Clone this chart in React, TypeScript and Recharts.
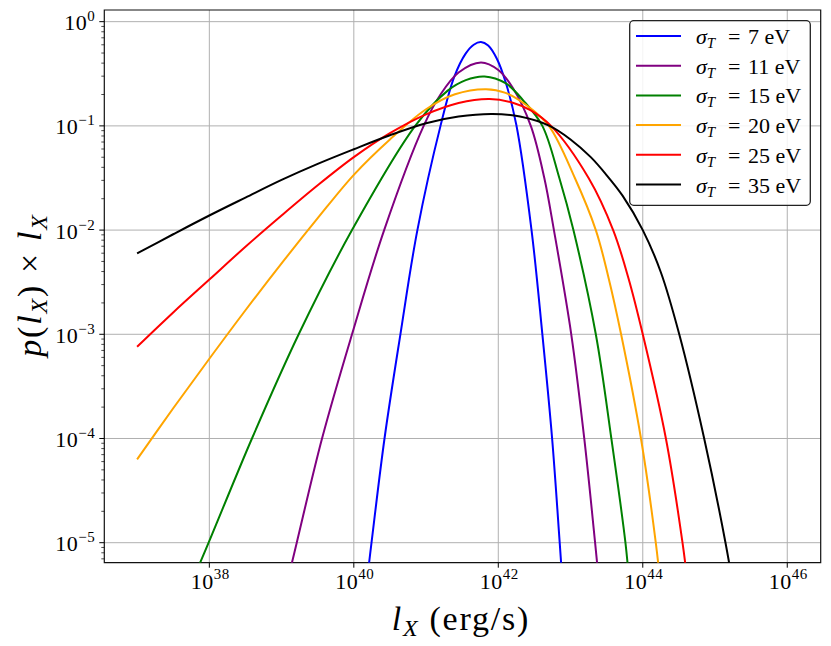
import React from 'react';
import { LineChart, Line, XAxis, YAxis, CartesianGrid, ReferenceArea, Legend, Label } from 'recharts';

const FONT = '"Liberation Serif", "Times New Roman", serif';

// sigma_T values (eV) and line colours
const sigmaT = [7, 11, 15, 20, 25, 35];
const colors = ['#0000ff', '#800080', '#008000', '#ffa500', '#ff0000', '#000000'];

// log10(l_X [erg/s]) of each sampled point and p(l_X) x l_X read at that point
const blueLogL = [40.178, 40.245, 40.425, 40.645, 40.88, 41.2, 41.39, 41.55, 41.66, 41.76, 41.86, 41.98, 42.1, 42.25, 42.46, 42.61, 42.745, 42.85, 42.91];
const blueP = [4.07e-6, 1e-5, 1e-4, 1e-3, 1e-2, 0.1, 0.295, 0.496, 0.601, 0.637, 0.59, 0.441, 0.265, 0.102, 1e-2, 1e-3, 1e-4, 1e-5, 2.51e-6];

const purpleLogL = [39.075, 39.21, 39.56, 39.975, 40.42, 40.967, 41.2, 41.45, 41.76, 42.0, 42.2, 42.45, 42.637, 42.77, 43.01, 43.19, 43.34, 43.41];
const purpleP = [4.07e-6, 1e-5, 1e-4, 1e-3, 1e-2, 0.1, 0.2, 0.325, 0.406, 0.344, 0.232, 0.1, 0.0316, 1e-2, 1e-3, 1e-4, 1e-5, 3.16e-6];

const greenLogL = [37.8, 37.99, 38.59, 39.237, 39.975, 40.85, 41.3, 41.55, 41.81, 42.1, 42.35, 42.61, 42.845, 43.04, 43.35, 43.565, 43.76, 43.815];
const greenP = [4.9e-6, 1e-5, 1e-4, 1e-3, 1e-2, 0.1, 0.218, 0.275, 0.298, 0.257, 0.174, 0.1, 0.0316, 1e-2, 1e-3, 1e-4, 1e-5, 3.98e-6];

const orangeLogL = [37, 37.5, 38, 38.5, 39, 39.5, 40, 40.5, 41, 41.4, 41.83, 42.1, 42.4, 42.7, 43.06, 43.35, 43.52, 43.7, 43.975, 44.18, 44.26];
const orangeP = [6.31e-5, 1.95e-4, 5.82e-4, 1.7e-3, 4.79e-3, 1.3e-2, 3.39e-2, 7.41e-2, 0.1445, 0.201, 0.225, 0.2075, 0.156, 0.1, 0.0316, 1e-2, 3.63e-3, 1e-3, 1e-4, 1e-5, 3.16e-6];

const redLogL = [37, 37.5, 38, 38.5, 39, 39.5, 40, 40.5, 41, 41.45, 41.88, 42.2, 42.45, 42.73, 43.25, 43.59, 43.8, 44.0, 44.32, 44.55, 44.64];
const redP = [7.59e-4, 1.62e-3, 3.35e-3, 6.92e-3, 1.38e-2, 2.69e-2, 5.01e-2, 8.51e-2, 0.129, 0.166, 0.181, 0.167, 0.141, 0.1, 0.0316, 1e-2, 3.49e-3, 1e-3, 1e-4, 1e-5, 3.16e-6];

const blackLogL = [37, 37.5, 38, 38.5, 39, 39.5, 40, 40.5, 41, 41.45, 41.92, 42.3, 42.71, 43.0, 43.28, 43.49, 43.72, 44.0, 44.25, 44.505, 44.85, 45.145, 45.27];
const blackP = [5.98e-3, 9.12e-3, 1.38e-2, 2.05e-2, 3.03e-2, 4.32e-2, 5.97e-2, 8.13e-2, 0.106, 0.123, 0.13, 0.123, 0.1, 7.41e-2, 5.01e-2, 3.43e-2, 2.14e-2, 1e-2, 3.94e-3, 1e-3, 1e-4, 1e-5, 3.16e-6];

// axis ticks (exponents of ten)
const xTickExps = [38, 40, 42, 44, 46];
const yMajorExps = [-5, -4, -3, -2, -1, 0];

const X_MIN = 10 ** 36.546;
const X_MAX = 10 ** 46.463;
const Y_MIN = 10 ** -5.192;
const Y_MAX = 10 ** 0.112;

const seriesLogL = [blueLogL, purpleLogL, greenLogL, orangeLogL, redLogL, blackLogL];
const seriesP = [blueP, purpleP, greenP, orangeP, redP, blackP];

const seriesData = seriesLogL.map((ls, k) => ls.map((e, i) => ({ l: 10 ** e, p: seriesP[k][i] })));

const xTicks = xTickExps.map((e) => 10 ** e);
const yMajor = yMajorExps.map((e) => 10 ** e);
const yTicks: number[] = [];
for (let e = -6; e <= 0; e++) {
  for (let m = 1; m <= 9; m++) {
    const v = m * 10 ** e;
    if (v >= Y_MIN && v <= Y_MAX) yTicks.push(v);
  }
}

// centripetal Catmull-Rom curve (smooth, passes through every point)
function catmullRom(context: any) {
  let pts: number[][] = [];
  return {
    areaStart() {},
    areaEnd() {},
    lineStart() {
      pts = [];
    },
    point(x: number, y: number) {
      pts.push([+x, +y]);
    },
    lineEnd() {
      const n = pts.length;
      if (n === 0) return;
      context.moveTo(pts[0][0], pts[0][1]);
      if (n === 1) return;
      for (let i = 0; i < n - 1; i++) {
        const p0 = i > 0 ? pts[i - 1] : pts[i];
        const p1 = pts[i];
        const p2 = pts[i + 1];
        const p3 = i + 2 < n ? pts[i + 2] : pts[i + 1];
        const d01 = Math.hypot(p1[0] - p0[0], p1[1] - p0[1]);
        const d12 = Math.hypot(p2[0] - p1[0], p2[1] - p1[1]);
        const d23 = Math.hypot(p3[0] - p2[0], p3[1] - p2[1]);
        const l01a = Math.sqrt(d01);
        const l12a = Math.sqrt(d12);
        const l23a = Math.sqrt(d23);
        let x1 = p1[0];
        let y1 = p1[1];
        let x2 = p2[0];
        let y2 = p2[1];
        if (l01a > 1e-9) {
          const a = 2 * d01 + 3 * l01a * l12a + d12;
          const nn = 3 * l01a * (l01a + l12a);
          x1 = (x1 * a - p0[0] * d12 + p2[0] * d01) / nn;
          y1 = (y1 * a - p0[1] * d12 + p2[1] * d01) / nn;
        }
        if (l23a > 1e-9) {
          const b = 2 * d23 + 3 * l23a * l12a + d12;
          const m = 3 * l23a * (l23a + l12a);
          x2 = (x2 * b + p1[0] * d23 - p3[0] * d12) / m;
          y2 = (y2 * b + p1[1] * d23 - p3[1] * d12) / m;
        }
        context.bezierCurveTo(x1, y1, x2, y2, p2[0], p2[1]);
      }
    },
  };
}

const isMajor = (v: number) => {
  const e = Math.log10(v);
  return Math.abs(e - Math.round(e)) < 1e-6;
};

const expText = (e: number) => (e < 0 ? '\u2212' + Math.abs(e) : String(e));

const YTick = (props: any) => {
  const { x, y, payload } = props;
  const v = payload.value as number;
  const major = isMajor(v);
  const e = Math.round(Math.log10(v));
  return (
    <g>
      <line x1={x - (major ? 5 : 3)} x2={x} y1={y} y2={y} stroke="#000" strokeWidth={major ? 1 : 0.7} />
      {major && (
        <text x={x - 9} y={y + 8.5} textAnchor="end" fontFamily={FONT} fontSize={22} fill="#000" letterSpacing={0.5}>
          10
          <tspan fontSize={15} dy={-9}>{expText(e)}</tspan>
        </text>
      )}
    </g>
  );
};

const XTick = (props: any) => {
  const { x, y, payload } = props;
  const e = Math.round(Math.log10(payload.value));
  return (
    <g>
      <line x1={x} x2={x} y1={y} y2={y + 5} stroke="#000" strokeWidth={1} />
      <text x={x + 1} y={y + 26.5} textAnchor="middle" fontFamily={FONT} fontSize={22} fill="#000" letterSpacing={0.5}>
        10
        <tspan fontSize={15} dy={-10}>{expText(e)}</tspan>
      </text>
    </g>
  );
};

const XTitle = () => (
  <text x={461} y={630} textAnchor="middle" fontFamily={FONT} fontSize={34} fill="#000" letterSpacing={1.8}>
    <tspan fontStyle="italic">l</tspan>
    <tspan fontStyle="italic" fontSize={24} dy={6}>X</tspan>
    <tspan dy={-6} dx={10}>(erg/s)</tspan>
  </text>
);

const YTitle = () => (
  <text transform="translate(41,285) rotate(-90)" textAnchor="middle" fontFamily={FONT} fontSize={34} fill="#000" letterSpacing={1.8}>
    <tspan fontStyle="italic">p</tspan>
    <tspan>(</tspan>
    <tspan fontStyle="italic">l</tspan>
    <tspan fontStyle="italic" fontSize={24} dy={6}>X</tspan>
    <tspan dy={-6}>)</tspan>
    <tspan dx={11}>×</tspan>
    <tspan dx={11} fontStyle="italic">l</tspan>
    <tspan fontStyle="italic" fontSize={24} dy={6}>X</tspan>
  </text>
);

const LegendBox = () => (
  <svg width={182} height={186} style={{ display: 'block' }}>
    <rect x={0.7} y={0.7} width={180.6} height={184.6} rx={4} ry={4} fill="#fff" fillOpacity={0.85} stroke="#222" strokeWidth={1.3} />
    {sigmaT.map((s, i) => {
      const yy = 16 + 29.7 * i;
      return (
        <g key={s}>
          <line x1={7} x2={52} y1={yy} y2={yy} stroke={colors[i]} strokeWidth={2} />
          <text x={67} y={yy + 8} fontFamily={FONT} fontSize={22} fill="#000">
            <tspan fontStyle="italic">σ</tspan>
            <tspan fontStyle="italic" fontSize={15} dy={4}>T</tspan>
          </text>
          <text x={99} y={yy + 8} fontFamily={FONT} fontSize={22} fill="#000">
            =
          </text>
          <text x={119} y={yy + 8} fontFamily={FONT} fontSize={22} fill="#000">
            {s + ' eV'}
          </text>
        </g>
      );
    })}
  </svg>
);

export default function App() {
  return (
    <div style={{ position: 'absolute', left: 0, top: 0, width: 831, height: 646, background: '#fff' }}>
      <LineChart width={831} height={646} margin={{ top: 10, right: 10.3, left: 0, bottom: 0 }}>
        <CartesianGrid stroke="#b0b0b0" strokeWidth={1} horizontalValues={yMajor} verticalValues={xTicks} />
        <XAxis
          dataKey="l"
          type="number"
          scale="log"
          domain={[X_MIN, X_MAX]}
          allowDataOverflow
          ticks={xTicks}
          interval={0}
          tick={(p: any) => <XTick {...p} />}
          tickSize={0}
          tickMargin={0}
          tickLine={false}
          axisLine={false}
          height={83.3}
        >
          <Label content={() => <XTitle />} />
        </XAxis>
        <YAxis
          type="number"
          scale="log"
          domain={[Y_MIN, Y_MAX]}
          allowDataOverflow
          ticks={yTicks}
          interval={0}
          tick={(p: any) => <YTick {...p} />}
          tickSize={0}
          tickMargin={0}
          tickLine={false}
          axisLine={false}
          width={104.3}
        >
          <Label content={() => <YTitle />} />
        </YAxis>
        {seriesData.map((d, i) => (
          <Line
            key={sigmaT[i]}
            data={d}
            dataKey="p"
            type={catmullRom as any}
            stroke={colors[i]}
            strokeWidth={2}
            dot={false}
            activeDot={false}
            isAnimationActive={false}
            name={`σT = ${sigmaT[i]} eV`}
          />
        ))}
        <ReferenceArea
          x1={X_MIN}
          x2={X_MAX}
          y1={Y_MIN}
          y2={Y_MAX}
          fill="none"
          stroke="#111"
          strokeWidth={1.2}
          ifOverflow="visible"
        />
        <Legend
          layout="vertical"
          align="center"
          verticalAlign="middle"
          wrapperStyle={{ left: 629, top: 20, width: 182, height: 186 }}
          content={() => <LegendBox />}
        />
      </LineChart>
    </div>
  );
}
